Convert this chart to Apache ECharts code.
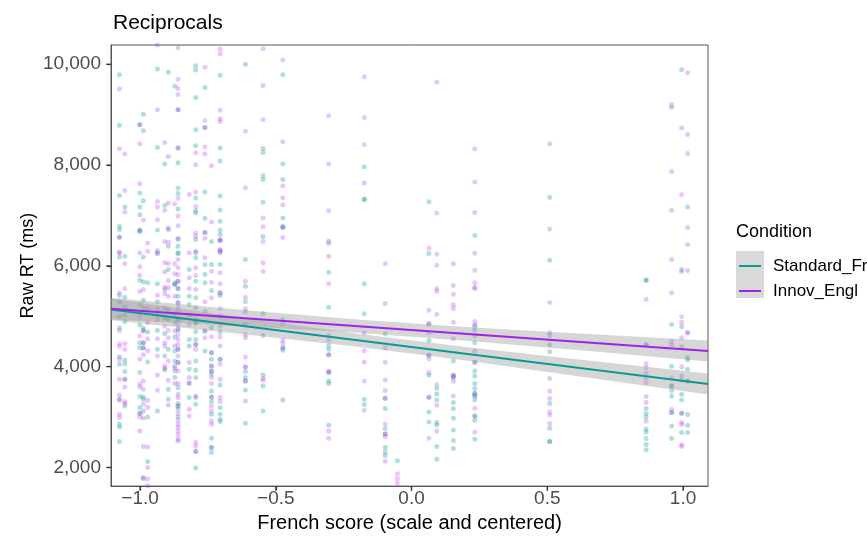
<!DOCTYPE html>
<html><head><meta charset="utf-8">
<script src="https://cdn.jsdelivr.net/npm/echarts@6/dist/echarts.min.js"></script>
<style>html,body{margin:0;padding:0;background:#fff}#c{width:867px;height:538px}</style>
</head><body><div id="c"></div>
<script>
// ---- data ----
const conditions = ['Standard_Fr', 'Innov_Engl'];
const xTicks = [-1.0, -0.5, 0.0, 0.5, 1.0];
const yTicks = [2000, 4000, 6000, 8000, 10000];
const frenchScore = [-1.076,-1.056,-1.001,-0.988,-0.972,-0.936,-0.909,-0.896,-0.872,-0.860,-0.819,-0.795,-0.761,-0.737,-0.705,-0.612,-0.547,-0.474,-0.305,-0.174,-0.097,-0.052,0.064,0.093,0.154,0.233,0.509,0.864,0.958,0.995,1.017];
const rtStandardFr = [
 [9794,8792,7398,6784,6719,6567,6178,5412,5287,5002,4772,4198,4046,3353,2858,2805,2515],
 [7168,6190,5378,5181,5022,4891,4131,4060,3902,3749,3220],
 [8798,7446,7168,7016,6705,6679,5715,5234,4824,4476,4376,3882,3406,3189,3076],
 [9010,8679,7293,6178,5683,5319,5169,4765,4713,4476,4369,3398,3353,3121,1782],
 [5664,4686,4092,3003,2119],
 [9907,8348,6713,6244,5644,5287,4719,4343,3121],
 [8020,7200,5531,4970,4660,4211,3933],
 [9841,6719,6388,5927,5135,4937,4343,3551,3353],
 [9570,5664,5630,4872,4587,4309,4111,3967,3783],
 [9095,8336,8046,7545,7438,7129,6527,6388,6258,6238,5695,5551,5398,5268,4937,4739,4343,4080,3585,3268,3220,3155,3003],
 [5927,5398,5234,4541,4409,3947,3664,3386],
 [9972,9887,9339,8699,8382,7347,7095,7050,6521,6289,6159,5695,5366,5169,4923,4872,4693,4541,4442,4111,3927,3783,3386,3254,2317,1987],
 [9537,8745,7465,6943,6660,6026,5828,5664,5101,4705,4309],
 [6481,6026,5511,4772,4278,4145,4013,3913,3848,3517,3398,3308,3056,2581,2396,2298],
 [9782,8336,8079,7386,7109,6883,6705,6620,6501,6258,6026,5466,5412,5002,4686,4145,3636,3189,3056,2957,2911],
 [10000,6125,5596,5287,4838,3902,3783,3715,3537,2878],
 [8329,8250,7788,7715,7260,6581,5056,4620,3834,3616,3121],
 [9794,8026,7715,6951,6784,6759,4937,4376,4323,3339],
 [6487,5873,5181,4620,4422,4343,4238,3882,3715,3664,2838],
 [7966,7327,7313,5644,5050,3353,3248],
 [4654,3373,3169,2773,2666,2396,2309,2238],
 [2131],
 [7273,6244,4852,4521,4224,3828,3392,3102,2904],
 [3565,3458,3339,2892,2844,2416,2165],
 [4111,3828,3789,3288,3169,2977,2745,2535,2377],
 [6600,4804,4725,4620,4476,4086,3913,3814,3664,3565,3466,3418,3339,3022,2937,2561],
 [7359,6111,4436,4297,3268,2779,2515,2515],
 [5723,5709,4436,3169,3070,3003,2759,2705,2575,2456,2349],
 [9148,4838,4007,3616,3525,3418,3089,2824,2575],
 [9893,5927,4792,4396,3814,3452,3339,3076,2694],
 [7168,4185,4131,3947,3715,3050,2838,2694]
];
const rtInnovEngl = [
 [9511,8323,6567,6269,6258,5466,4719,4456,4396,4145,3749,3438,3333,3056,2991],
 [8218,7497,7069,6046,5551,4456,4343,3749,3597,3308,3268],
 [8798,8422,7630,6705,6258,5980,5814,5491,5002,4606,4145,3650,3597,3076,3003,2725],
 [6911,5531,4713,4476,4369,4238,3715,3551,3254,2977,2416,1802],
 [6455,6289,5155,4872,4555,4309,3333,3189,2408,2000,1769,1636],
 [10382,9095,7279,7168,6917,6303,6258,5418,5149,5022,4937,4555,4211,3834,3531],
 [8448,7101,6481,6060,5881,5577,5446,5169,4804,4476,4409,4013,3967],
 [8171,7247,6753,6467,6046,5709,5565,5398,4719,4575,4111,3729,3240],
 [7234,6040,5841,5630,5398,5050,4705,4409,4013,3913,3664],
 [10329,9703,9517,9398,9095,8336,7339,6990,6798,6547,6125,5960,5828,5695,5551,5268,5169,5090,4937,4824,4739,4640,4541,4442,4343,4211,4080,3913,3664,3452,3386,3220,3070,2937,2858,2793,2725,2646,2561,2527],
 [7418,6258,5762,5551,5036,4838,4080,3783,3683,3155,3022],
 [8244,8006,7465,7180,6654,6587,6258,5960,5808,5531,4872,4442,4343,3418,2496,2428,2317],
 [9940,8883,8745,8356,8218,6660,6547,6159,5287,4705,4575],
 [7986,6871,5893,5675,5366,4595,4278,4013,3913,3783,3664,3398,3220,3121,2923,2858,2396],
 [10303,10204,9089,8917,8863,6521,6501,6323,6303,6289,5861,5644,5466,5155,4804,4595,4409,4145,4046,3749,3386,3308],
 [8673,7551,5695,5378,5149,5090,4640,4575,4190,3992,4000,3715,3319],
 [10309,9576,8897,6951,6778,6481,6060,5893,3763,3729],
 [10085,8461,7590,7353,7214,6759,6561,4858,4527,4462,4376],
 [8976,8020,7095,6442,6190,5650,4527,4238,3913,3882,2725,2581],
 [9754,8943,8408,7644,4674,4317,4092,3715,3135],
 [6040,5254,4369,4086,3735,3525,3373,2864,2666,2607,2125],
 [1874,1782,1690],
 [6349,5121,4852,4674,4224,4159,3882,3392,2581],
 [9649,7050,6230,6012,5551,5497,5042,3644,3234,2725],
 [6040,5610,5438,5228,5155,4883,4555,3828,3789,3709,3418],
 [8323,7663,7061,6250,5913,5664,5571,5551,4897,4824,4309,4086,3466,3418,3175,3022,2705],
 [8422,6733,5274,4674,4620,3763,3517,3367,3102,3042,2872],
 [5339,4436,4060,3981,3868,3769,3683,3406,3288,2917],
 [9200,7873,7101,6125,5466,4501,4428,3775,3616,3155,3089],
 [8733,7412,5881,4990,4883,4575,4000,3729,3076,2892,2852,2448,2416],
 [9833,8606,8230,6759,6422,5907,4674,4674,3715]
];
// fitted lines (end points) and confidence bands
const fitX = [-1.107, 1.092];
const fitStandardFr = [5135, 3655];
const fitInnovEngl = [5150, 4310];
const bandX = [-1.107, -0.6, -0.2, 0.2, 0.6, 1.092];
const bandStdLower = [4920, 4634, 4395, 4120, 3821, 3445];
const bandStdUpper = [5350, 4954, 4655, 4390, 4151, 3865];
const bandInnLower = [4935, 4796, 4674, 4516, 4333, 4100];
const bandInnUpper = [5365, 5116, 4934, 4786, 4663, 4520];
const yRange = [1630, 10382];

// ---- chart ----
const FONT = '"Liberation Sans", Arial, Helvetica, sans-serif';
const TEAL = '#0a9a96', PURPLE = '#a020f0';
function points(cols){
  const out = [];
  cols.forEach((ys, i) => ys.forEach(y => out.push([frenchScore[i], y])));
  return out;
}
function band(lower, upper){
  return {
    type: 'custom', silent: true, z: 3,
    data: [[bandX[0], lower[0]]],
    renderItem: (params, api) => {
      const pts = [];
      for (let i = 0; i < bandX.length; i++) pts.push(api.coord([bandX[i], upper[i]]));
      for (let i = bandX.length - 1; i >= 0; i--) pts.push(api.coord([bandX[i], lower[i]]));
      return {type: 'polygon', shape: {points: pts}, style: {fill: 'rgba(153,153,153,0.4)'}};
    }
  };
}
// outward tick marks drawn as tiny rect symbols placed through the axes' scales
const xTickMarks = {
  type: 'scatter', silent: true, clip: false, z: 10,
  data: xTicks.map(v => [v, yRange[0]]),
  symbol: 'rect', symbolSize: [1.3, 5], symbolOffset: [0, 2.5],
  itemStyle: {color: '#333'}
};
const yTickMarks = {
  type: 'scatter', silent: true, clip: false, z: 10,
  data: yTicks.map(v => [fitX[0], v]),
  symbol: 'rect', symbolSize: [5, 1.3], symbolOffset: [-2.5, 0],
  itemStyle: {color: '#333'}
};
const chart = echarts.init(document.getElementById('c'), null, {renderer: 'canvas'});
chart.setOption({
  animation: false,
  backgroundColor: '#fff',
  title: {text: 'Reciprocals', left: 108, top: 8,
    textStyle: {fontFamily: FONT, fontSize: 21, fontWeight: 'normal', color: '#000'}},
  grid: {left: 111, right: 159, top: 45, bottom: 51, show: true, borderColor: '#555', borderWidth: 1},
  xAxis: {
    type: 'value', min: fitX[0], max: fitX[1],
    name: 'French score (scale and centered)', nameLocation: 'middle', nameGap: 25,
    nameTextStyle: {fontFamily: FONT, fontSize: 20, color: '#000'},
    axisLine: {show: true, onZero: false, lineStyle: {color: '#555', width: 1}}, splitLine: {show: false},
    axisTick: {show: true, length: 4, customValues: xTicks, lineStyle: {color: '#333', width: 1.2}},
    axisLabel: {customValues: xTicks, margin: 3, fontFamily: FONT, fontSize: 19, color: '#4d4d4d',
      formatter: v => (v < 0 ? '\u2212' : '') + Math.abs(v).toFixed(1)}
  },
  yAxis: {
    type: 'value', min: yRange[0], max: yRange[1],
    name: 'Raw RT (ms)', nameLocation: 'middle', nameGap: 74, nameMoveOverlap: false,
    nameTextStyle: {fontFamily: FONT, fontSize: 18, color: '#000'},
    axisLine: {show: true, onZero: false, lineStyle: {color: '#555', width: 1}}, splitLine: {show: false},
    axisTick: {show: true, length: 4, customValues: yTicks, lineStyle: {color: '#333', width: 1.2}},
    axisLabel: {customValues: yTicks, margin: 10, fontFamily: FONT, fontSize: 19, color: '#4d4d4d',
      formatter: v => v.toLocaleString('en-US')}
  },
  series: [
    {name: conditions[0], type: 'scatter', data: points(rtStandardFr), symbolSize: 5, z: 2,
      itemStyle: {color: 'rgba(0,150,145,0.38)'}},
    {name: conditions[1], type: 'scatter', data: points(rtInnovEngl), symbolSize: 5, z: 2,
      itemStyle: {color: 'rgba(170,40,240,0.32)'}},
    band(bandStdLower, bandStdUpper),
    band(bandInnLower, bandInnUpper),
    {name: conditions[0] + ' fit', type: 'line', z: 4, showSymbol: false, silent: true,
      data: fitX.map((x, i) => [x, fitStandardFr[i]]), lineStyle: {color: TEAL, width: 2}},
    {name: conditions[1] + ' fit', type: 'line', z: 4, showSymbol: false, silent: true,
      data: fitX.map((x, i) => [x, fitInnovEngl[i]]), lineStyle: {color: PURPLE, width: 2}},
    xTickMarks,
    yTickMarks
  ],
  graphic: [
    {type: 'text', left: 736, top: 223, style: {text: 'Condition', fontFamily: FONT, fontSize: 18, fill: '#000'}},
    {type: 'rect', shape: {x: 736, y: 251, width: 28, height: 47}, style: {fill: '#d9d9d9'}},
    {type: 'line', shape: {x1: 739, y1: 266, x2: 761, y2: 266}, style: {stroke: TEAL, lineWidth: 2}},
    {type: 'line', shape: {x1: 739, y1: 291, x2: 761, y2: 291}, style: {stroke: PURPLE, lineWidth: 2}},
    {type: 'text', x: 773, y: 266, style: {text: conditions[0], fontFamily: FONT, fontSize: 17, fill: '#000', verticalAlign: 'middle'}},
    {type: 'text', x: 773, y: 291, style: {text: conditions[1], fontFamily: FONT, fontSize: 17, fill: '#000', verticalAlign: 'middle'}}
  ]
});
</script></body></html>
